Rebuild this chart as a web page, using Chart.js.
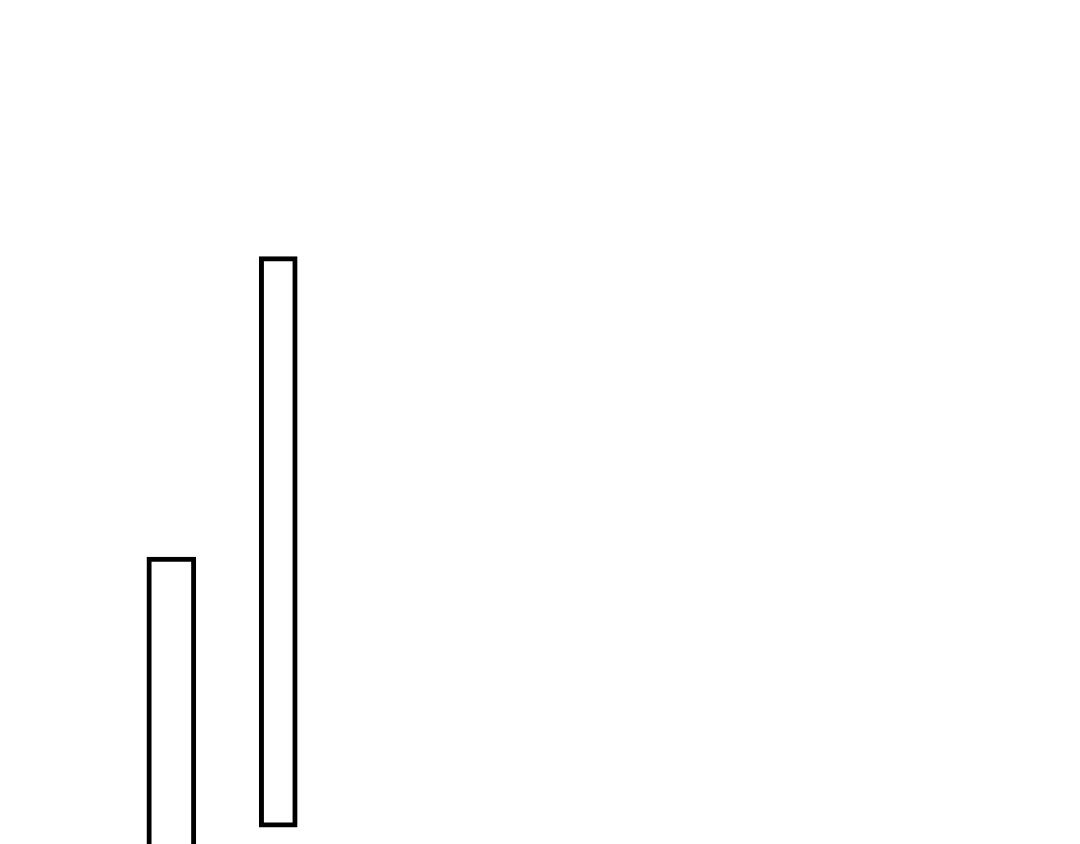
<!DOCTYPE html>
<html>
<head>
<meta charset="utf-8">
<script src="https://cdn.jsdelivr.net/npm/chart.js@4/dist/chart.umd.min.js"></script>
<style>
  html, body { margin: 0; padding: 0; background: #fff; }
  #wrap { width: 1080px; height: 844px; position: relative; }
</style>
</head>
<body>
<div id="wrap"><canvas id="barChart"></canvas></div>
<script>
// data
const categories = ["1", "2", "3", "4", "5", "6", "7", "8", "9", "10"];
const serieA = [null, [-4, 34], null, null, null, null, null, null, null, null];
const serieB = [null, null, [2, 69.6], null, null, null, null, null, null, null];
const yMin = 0;
const yMax = 100;

(() => {
    const canvas = document.getElementById("barChart");
    if (!canvas) {
        console.error("canvas no encontrado");
        return;
    }
    const ctx = canvas.getContext("2d");

    new Chart(ctx, {
        type: "bar",
        data: {
            labels: categories,
            datasets: [{
                label: "A",
                data: serieA,
                backgroundColor: "#ffffff",
                borderColor: "#000000",
                borderWidth: 5,
                borderSkipped: false,
                barThickness: 49,
                skipNull: true
            }, {
                label: "B",
                data: serieB,
                backgroundColor: "#ffffff",
                borderColor: "#000000",
                borderWidth: 5,
                borderSkipped: false,
                barThickness: 38,
                skipNull: true
            }]
        },
        options: {
            responsive: true,
            maintainAspectRatio: false,
            animation: false,
            layout: { padding: { left: 11, right: 0, top: 0, bottom: 0 } },
            plugins: {
                legend: { display: false },
                tooltip: { enabled: false }
            },
            scales: {
                x: { display: false, grid: { display: false } },
                y: { display: false, min: yMin, max: yMax, grid: { display: false } }
            }
        }
    });
})();
</script>
</body>
</html>
